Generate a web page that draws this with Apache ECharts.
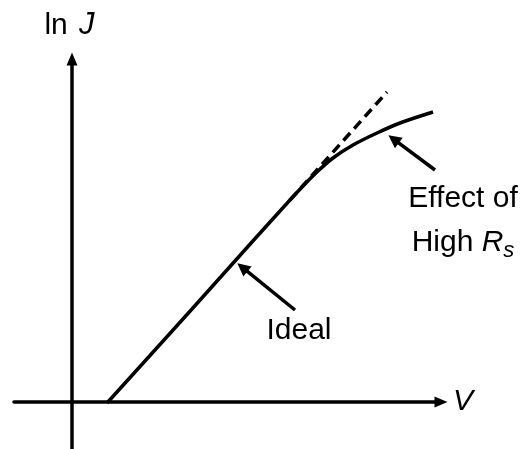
<!DOCTYPE html>
<html>
<head>
<meta charset="utf-8">
<script src="https://cdn.jsdelivr.net/npm/echarts@6/dist/echarts.min.js"></script>
<style>
  html, body { margin: 0; padding: 0; background: #fff; }
  #chart { width: 523px; height: 449px; }
</style>
</head>
<body>
<div id="chart"></div>
<script>
// Diode characteristic sketch: ln J plotted against V.
// Extension of the straight (ideal) region, drawn dashed.
const idealV = [21.8, 31.5];
const idealLnJ = [20.2, 31.0];

// Real curve: straight at first, then bending over from series resistance.
const realV = [3.5, 12.0, 18.0, 21.8, 23.3, 24.6, 26.1, 28.1, 30.5, 32.8, 36.1];
const realLnJ = [-0.1, 9.3, 16.0, 20.2, 21.8, 23.1, 24.4, 25.7, 26.9, 27.9, 29.0];

// Callout texts and where they sit.
const noteText = ['Effect of\nHigh {r|R}{s|s}', 'Ideal'];
const noteV = [39.1, 22.7];
const noteLnJ = [18.1, 7.1];

// Callout arrows: from the text towards the curve.
const arrowFromV = [36.3, 22.3];
const arrowFromLnJ = [23.2, 9.2];
const arrowToV = [32.16, 17.04];
const arrowToLnJ = [26.28, 13.46];

const FONT = '"Liberation Sans", Arial, sans-serif';

const zip = (xs, ys) => xs.map((x, i) => [x, ys[i]]);

const chart = echarts.init(document.getElementById('chart'), null, { renderer: 'canvas' });

const axisCommon = {
  type: 'value',
  axisLine: {
    onZero: true,
    symbol: ['none', 'triangle'],
    symbolSize: [11, 13],
    lineStyle: { color: '#000', width: 3.5 }
  },
  axisTick: { show: false },
  axisLabel: { show: false },
  splitLine: { show: false },
  nameLocation: 'end'
};

chart.setOption({
  animation: false,
  backgroundColor: '#fff',
  grid: { left: 14, right: 82, top: 59, bottom: 0, containLabel: false, outerBoundsMode: 'none' },
  xAxis: Object.assign({}, axisCommon, {
    min: -5.8,
    max: 36.9,
    name: 'V',
    nameGap: 12,
    nameTextStyle: { fontFamily: FONT, fontSize: 30, fontStyle: 'italic', color: '#000', padding: [0, 0, 10, 0] }
  }),
  yAxis: Object.assign({}, axisCommon, {
    min: -4.7,
    max: 34.3,
    name: 'ln {j|J}',
    nameGap: 18,
    nameTextStyle: {
      fontFamily: FONT, fontSize: 30, color: '#000', padding: [0, 5, 0, 0],
      rich: { j: { fontFamily: FONT, fontSize: 31, fontStyle: 'italic', color: '#000', padding: [0, 0, 0, 3] } }
    }
  }),
  series: [
    {
      type: 'line',
      name: 'ideal',
      data: zip(idealV, idealLnJ),
      showSymbol: false,
      silent: true,
      lineStyle: { color: '#000', width: 3.5, type: [10, 6] },
      z: 2
    },
    {
      type: 'line',
      name: 'real',
      data: zip(realV, realLnJ),
      showSymbol: false,
      silent: true,
      smooth: 0.3,
      lineStyle: { color: '#000', width: 3.5 },
      z: 3
    },
    {
      type: 'lines',
      coordinateSystem: 'cartesian2d',
      silent: true,
      symbol: ['none', 'triangle'],
      symbolSize: 13,
      lineStyle: { color: '#000', width: 3.5, opacity: 1 },
      data: arrowFromV.map((v, i) => ({
        coords: [[v, arrowFromLnJ[i]], [arrowToV[i], arrowToLnJ[i]]]
      })),
      z: 4
    },
    {
      type: 'scatter',
      silent: true,
      clip: false,
      symbolSize: 0,
      itemStyle: { opacity: 1, color: '#000' },
      data: noteText.map((t, i) => ({ value: [noteV[i], noteLnJ[i]], text: t })),
      label: {
        show: true,
        position: 'inside',
        align: 'center',
        verticalAlign: 'middle',
        formatter: p => p.data.text,
        fontFamily: FONT,
        fontSize: 30,
        lineHeight: 44,
        color: '#000',
        opacity: 1,
        textBorderWidth: 0,
        rich: {
          r: { fontFamily: FONT, fontSize: 30, fontStyle: 'italic', color: '#000', lineHeight: 44 },
          s: { fontFamily: FONT, fontSize: 22, fontStyle: 'italic', color: '#000', padding: [16, 0, 0, 0] }
        }
      },
      z: 5
    }
  ]
});
</script>
</body>
</html>
